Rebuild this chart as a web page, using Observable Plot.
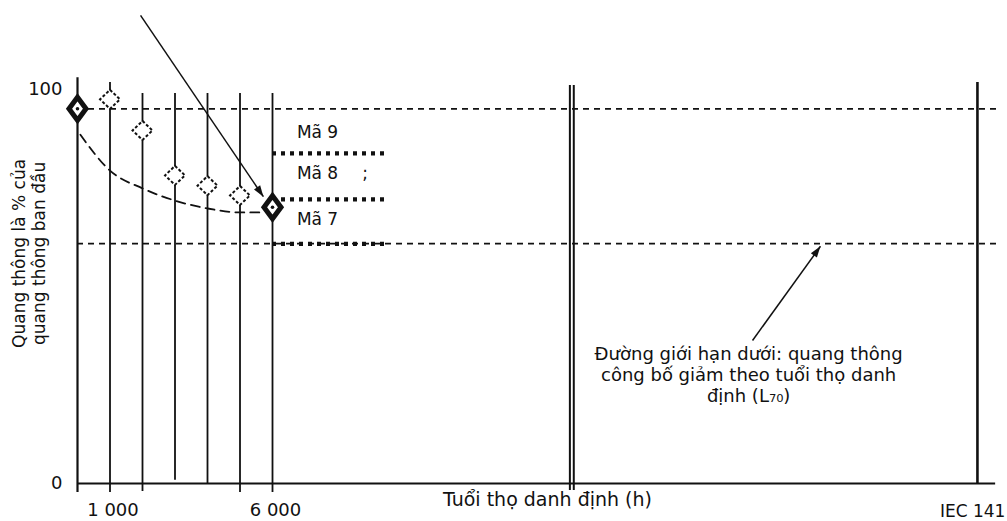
<!DOCTYPE html>
<html><head><meta charset="utf-8">
<script src="https://cdn.jsdelivr.net/npm/d3@7"></script>
<script src="https://cdn.jsdelivr.net/npm/@observablehq/plot@0.6"></script>
<style>body{margin:0;background:#fff;} svg{display:block}</style>
</head><body><div id="chart"></div>
<script>
// ---- data ----
const gridHours   = [1000, 2000, 3000, 4000, 5000, 6000];
const gridTop     = [101.8, 99, 99, 99, 99, 99];
const gridBottom  = [-2.3, -2, 0.8, 0, -2.3, -2.3];
const testHours   = [1000, 2000, 3000, 4000, 5000];
const testFlux    = [97.5, 89.6, 78.2, 75.6, 73.1];
const keyHours    = [0, 6000];
const keyFlux     = [95.1, 70.1];
const curveHours  = [90, 1000, 2000, 3000, 4000, 5000, 5750];
const curveFlux   = [88.5, 79.4, 74.9, 71.8, 69.8, 68.8, 68.8];
const initialLevel = 95.1;
const l70Level     = 60.9;
const codeLevels   = [83.8, 72.1, 60.8];
const codeLabels   = ["Mã 9", "Mã 8", "Mã 7"];
const breakHours   = [15150, 15270];
const endHours     = 27690;
const yTicks       = [0, 100];
const xTickValues  = [1000, 6000];
const xTickLabels  = ["1 000", "6 000"];
const yTitle = "Quang thông là % của\nquang thông ban đầu";
const xTitle = "Tuổi thọ danh định (h)";
const l70Note = "Đường giới hạn dưới: quang thông\ncông bố giảm theo tuổi thọ danh\nđịnh (L₇₀)";
const figId = "IEC 141";

// ---- helpers ----
const grid = gridHours.map((h, i) => ({h, top: gridTop[i], bottom: gridBottom[i]}));
const tests = testHours.map((h, i) => ({h, v: testFlux[i]}));
const keys = keyHours.map((h, i) => ({h, v: keyFlux[i]}));
const curve = curveHours.map((h, i) => ({h, v: curveFlux[i]}));

const tallDiamond = {draw(ctx, size) {
  const r = Math.sqrt(size / Math.PI), w = r * 0.74;
  ctx.moveTo(0, -r); ctx.lineTo(w, 0); ctx.lineTo(0, r); ctx.lineTo(-w, 0); ctx.closePath();
}};
const squareDiamond = {draw(ctx, size) {
  const r = Math.sqrt(size / Math.PI);
  ctx.moveTo(0, -r); ctx.lineTo(r * 1.05, 0); ctx.lineTo(0, r); ctx.lineTo(-r * 1.05, 0); ctx.closePath();
}};
const filledHead = (color) => {
  const ns = "http://www.w3.org/2000/svg";
  const m = document.createElementNS(ns, "marker");
  m.setAttribute("viewBox", "-10 -5 10 10");
  m.setAttribute("markerWidth", 7.5);
  m.setAttribute("markerHeight", 7.5);
  m.setAttribute("refX", 0);
  m.setAttribute("refY", 0);
  m.setAttribute("orient", "auto");
  m.setAttribute("overflow", "visible");
  const p = document.createElementNS(ns, "path");
  p.setAttribute("d", "M-10,-3.3L0,0L-10,3.3Z");
  p.setAttribute("fill", color);
  p.setAttribute("stroke", "none");
  m.appendChild(p);
  return m;
};

const F = "DejaVu Sans, Liberation Sans, Arial, sans-serif";
const ink = "#111";

const chart = Plot.plot({
  width: 1007,
  height: 521,
  marginLeft: 77,
  marginRight: 0,
  marginTop: 89,
  marginBottom: 38,
  x: {domain: [0, 28615]},
  y: {domain: [0, 100]},
  style: {fontFamily: F, fontSize: "18px", color: ink, background: "#fff", overflow: "visible"},
  marks: [
    // dashed reference levels
    Plot.ruleY([initialLevel, l70Level], {x1: 0, x2: 28310, stroke: ink, strokeWidth: 1.8, strokeDasharray: "6,5"}),
    // code band boundaries (bold dotted)
    Plot.ruleY(codeLevels, {x1: 6000, x2: 9540, stroke: ink, strokeWidth: 4.2, strokeDasharray: "4,5"}),
    // vertical hour lines
    Plot.ruleX(grid, {x: "h", y1: "bottom", y2: "top", stroke: ink, strokeWidth: 1.8}),
    // y-axis line and baseline
    Plot.ruleX([0], {y1: -2.3, y2: 103, stroke: ink, strokeWidth: 2.2}),
    Plot.ruleY([0], {x1: 0, x2: 28250, stroke: ink, strokeWidth: 2}),
    // axis break & end line
    Plot.ruleX(breakHours, {y1: -1.8, y2: 101, stroke: ink, strokeWidth: 2}),
    Plot.ruleX([endHours], {y1: 0, y2: 101.8, stroke: ink, strokeWidth: 2.6}),
    // dashed decay curve
    Plot.line(curve, {x: "h", y: "v", curve: "monotone-x", stroke: ink, strokeWidth: 1.8, strokeDasharray: "9,6"}),
    // test points (hollow dashed diamonds)
    Plot.dot(tests, {x: "h", y: "v", symbol: squareDiamond, r: 9.5, fill: "#fff", stroke: ink, strokeWidth: 2, strokeDasharray: "3,2"}),
    // key points (bold diamonds)
    Plot.dot(keys, {x: "h", y: "v", symbol: tallDiamond, r: 11.5, fill: "#fff", stroke: ink, strokeWidth: 5, strokeLinejoin: "miter"}),
    Plot.dot(keys, {x: "h", y: "v", r: 1.8, fill: ink}),
    // code labels
    Plot.text(codeLabels, {x: 6750, y: (d, i) => [87.8, 77.4, 65.5][i], text: d => d, textAnchor: "start", lineAnchor: "bottom", fontSize: 17, fill: ink}),
    Plot.text([";"], {x: 8760, y: 77.4, text: d => d, textAnchor: "start", lineAnchor: "bottom", fontSize: 17, fill: ink}),
    // arrows
    Plot.link([{x1: 1940, y1: 118.8, x2: 5720, y2: 72.8}], {x1: "x1", y1: "y1", x2: "x2", y2: "y2", stroke: ink, strokeWidth: 1.5, markerEnd: filledHead}),
    Plot.link([{x1: 20770, y1: 36.3, x2: 22860, y2: 60.2}], {x1: "x1", y1: "y1", x2: "x2", y2: "y2", stroke: ink, strokeWidth: 1.5, markerEnd: filledHead}),
    // annotation
    Plot.text([l70Note], {x: 20650, y: 20.6, text: d => d, textAnchor: "middle", lineAnchor: "bottom", lineHeight: 1.17, fontSize: 18, fill: ink}),
    // axes
    Plot.axisY(yTicks, {tickSize: 0, tickPadding: 15, label: null, fontSize: 18}),
    Plot.axisX(xTickValues, {tickSize: 0, tickPadding: 20, label: null, fontSize: 18, dx: 3,
      tickFormat: d => xTickLabels[xTickValues.indexOf(d)]}),
    // axis titles
    Plot.text([yTitle], {x: -985, y: 58.4, text: d => d, rotate: -90, textAnchor: "middle", lineAnchor: "bottom", lineHeight: 1.2, fontSize: 17, fill: ink}),
    Plot.text([xTitle], {x: 14460, y: -5.6, text: d => d, textAnchor: "middle", lineAnchor: "bottom", fontSize: 19, fill: ink}),
    Plot.text([figId], {x: 28550, y: -8.4, text: d => d, textAnchor: "end", lineAnchor: "bottom", fontSize: 17, fill: ink})
  ]
});
document.getElementById("chart").appendChild(chart);
</script>
</body></html>
